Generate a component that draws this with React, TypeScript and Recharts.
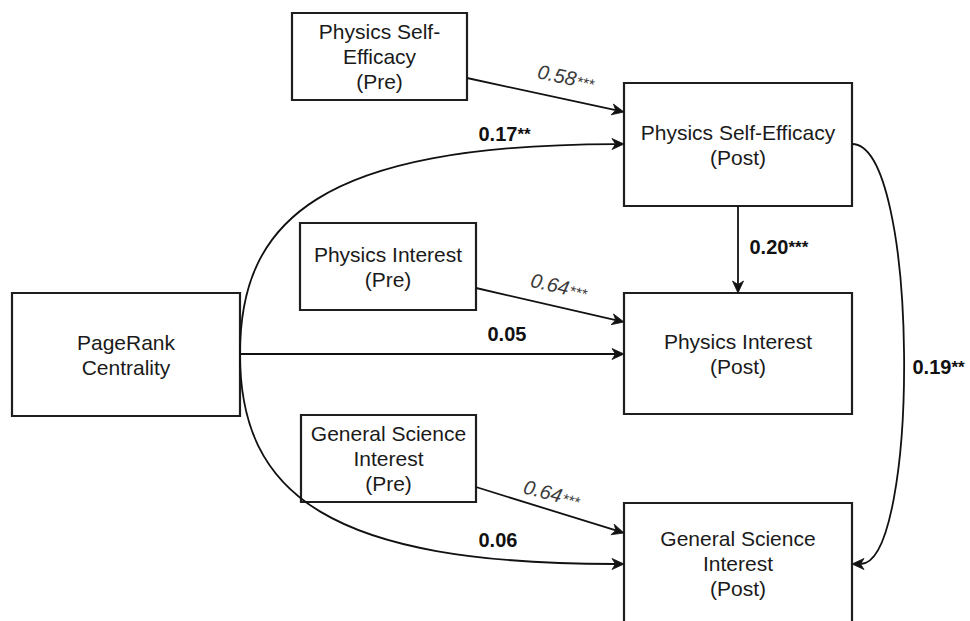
import React from 'react';
import { ScatterChart, Scatter, XAxis, YAxis, ReferenceArea } from 'recharts';

const FONT = '"Liberation Sans", Arial, Helvetica, sans-serif';

// ---- Nodes (boxes) of the path diagram, in diagram units ----
const nodeLines: string[][] = [
  ['Physics Self-', 'Efficacy', '(Pre)'],
  ['Physics Self-Efficacy', '(Post)'],
  ['Physics Interest', '(Pre)'],
  ['PageRank', 'Centrality'],
  ['Physics Interest', '(Post)'],
  ['General Science', 'Interest', '(Pre)'],
  ['General Science', 'Interest', '(Post)'],
];
const nodeLeft = [292, 624, 300, 12, 624, 301, 624];
const nodeRight = [467, 852, 476, 240, 852, 476, 852];
const nodeTop = [13, 83, 223, 293, 293, 415, 503];
const nodeBottom = [100, 206, 310, 416, 414, 502, 624];

// ---- Edges: start, (control points), end ----
const edgeX: number[][] = [
  [467, 624],
  [240, 240, 320, 624],
  [738, 738],
  [476, 624],
  [240, 624],
  [240, 240, 330, 624],
  [476, 624],
  [852, 920, 920, 852],
];
const edgeY: number[][] = [
  [78, 112],
  [354, 220, 145, 144],
  [206, 293],
  [288, 322],
  [354, 354],
  [354, 495, 564, 564],
  [487, 533],
  [144, 144, 564, 564],
];

// ---- Path coefficients ----
const coefValues = ['0.58', '0.17', '0.20', '0.64', '0.05', '0.06', '0.64', '0.19'];
const coefStars = ['***', '**', '***', '***', '', '', '***', '**'];
const coefItalic = [true, false, false, true, false, false, true, false];
const coefX = [557, 498, 769, 550, 507, 498, 543, 932];
const coefY = [75, 133.5, 246.5, 284, 334, 540, 491, 366.5];
const coefAngle = [12, 0, 0, 13, 0, 0, 15, 0];

const nodeData = nodeLines.map((lines, i) => ({
  x: (nodeLeft[i] + nodeRight[i]) / 2,
  y: (nodeTop[i] + nodeBottom[i]) / 2,
  lines,
}));

const edgeData = edgeX.map((xs, i) => xs.map((x, j) => ({ x, y: edgeY[i][j] })));

const coefData = coefValues.map((v, i) => ({
  x: coefX[i],
  y: coefY[i],
  value: v,
  stars: coefStars[i],
  italic: coefItalic[i],
  angle: coefAngle[i],
}));

const EdgeShape = (props: any) => {
  const pts: { x: number; y: number }[] = props.points || [];
  if (pts.length < 2) return <g />;
  const tip = pts[pts.length - 1];
  const prev = pts[pts.length - 2];
  const dx = tip.x - prev.x;
  const dy = tip.y - prev.y;
  const len = Math.sqrt(dx * dx + dy * dy) || 1;
  const ux = dx / len;
  const uy = dy / len;
  const nx = -uy;
  const ny = ux;
  const L = 12;
  const W = 5.5;
  const notch = 8.5;
  const endX = tip.x - ux * notch;
  const endY = tip.y - uy * notch;
  let d: string;
  if (pts.length === 4) {
    d = `M${pts[0].x},${pts[0].y} C${pts[1].x},${pts[1].y} ${pts[2].x},${pts[2].y} ${endX},${endY}`;
  } else {
    d = `M${pts[0].x},${pts[0].y} L${endX},${endY}`;
  }
  const bx = tip.x - ux * L;
  const by = tip.y - uy * L;
  const head = `M${tip.x},${tip.y} L${bx + nx * W},${by + ny * W} L${endX},${endY} L${bx - nx * W},${by - ny * W} Z`;
  return (
    <g>
      <path d={d} fill="none" stroke="#111" strokeWidth={1.8} />
      <path d={head} fill="#111" stroke="#111" strokeWidth={0.8} strokeLinejoin="miter" />
    </g>
  );
};

const NodeText = (props: any) => {
  const { cx, cy, payload } = props;
  const lines: string[] = (payload && payload.lines) || [];
  const n = lines.length;
  return (
    <text textAnchor="middle" fontFamily={FONT} fontSize={21} fill="#1a1a1a">
      {lines.map((l, i) => (
        <tspan key={i} x={cx} y={cy + (i - (n - 1) / 2) * 25 + 7.5}>
          {l}
        </tspan>
      ))}
    </text>
  );
};

const CoefText = (props: any) => {
  const { cx, cy, payload } = props;
  if (!payload) return <g />;
  const italic = payload.italic;
  return (
    <text
      x={cx - 19.5}
      y={cy + 7.2}
      textAnchor="start"
      fontFamily={FONT}
      fontSize={20}
      fontStyle={italic ? 'italic' : 'normal'}
      fontWeight={italic ? 'normal' : 'bold'}
      fill={italic ? '#3a3a3a' : '#111'}
      transform={payload.angle ? `rotate(${payload.angle} ${cx} ${cy})` : undefined}
    >
      {payload.value}
      {payload.stars ? (
        italic ? (
          <tspan fontSize={15} dx={1}>
            {payload.stars}
          </tspan>
        ) : (
          <tspan fontSize={17} dy={-1}>
            {payload.stars}
          </tspan>
        )
      ) : null}
    </text>
  );
};

export default function App() {
  return (
    <div style={{ position: 'absolute', left: 0, top: 0, width: 970, height: 621, background: '#fff' }}>
      <ScatterChart width={970} height={621} margin={{ top: 0, right: 0, bottom: 0, left: 0 }}>
        <XAxis type="number" dataKey="x" domain={[0, 970]} hide allowDataOverflow />
        <YAxis type="number" dataKey="y" domain={[0, 621]} reversed hide allowDataOverflow />
        {nodeLines.map((_, i) => (
          <ReferenceArea
            key={'box' + i}
            x1={nodeLeft[i]}
            x2={nodeRight[i]}
            y1={nodeTop[i]}
            y2={nodeBottom[i]}
            ifOverflow="visible"
            fill="none"
            fillOpacity={0}
            stroke="#1e1e1e"
            strokeWidth={2.2}
            strokeOpacity={1}
          />
        ))}
        {edgeData.map((pts, i) => (
          <Scatter
            key={'edge' + i}
            data={pts}
            line={(p: any) => <EdgeShape {...p} />}
            lineType="joint"
            shape={() => <g />}
            isAnimationActive={false}
          />
        ))}
        <Scatter data={nodeData} shape={(p: any) => <NodeText {...p} />} isAnimationActive={false} />
        <Scatter data={coefData} shape={(p: any) => <CoefText {...p} />} isAnimationActive={false} />
      </ScatterChart>
    </div>
  );
}
